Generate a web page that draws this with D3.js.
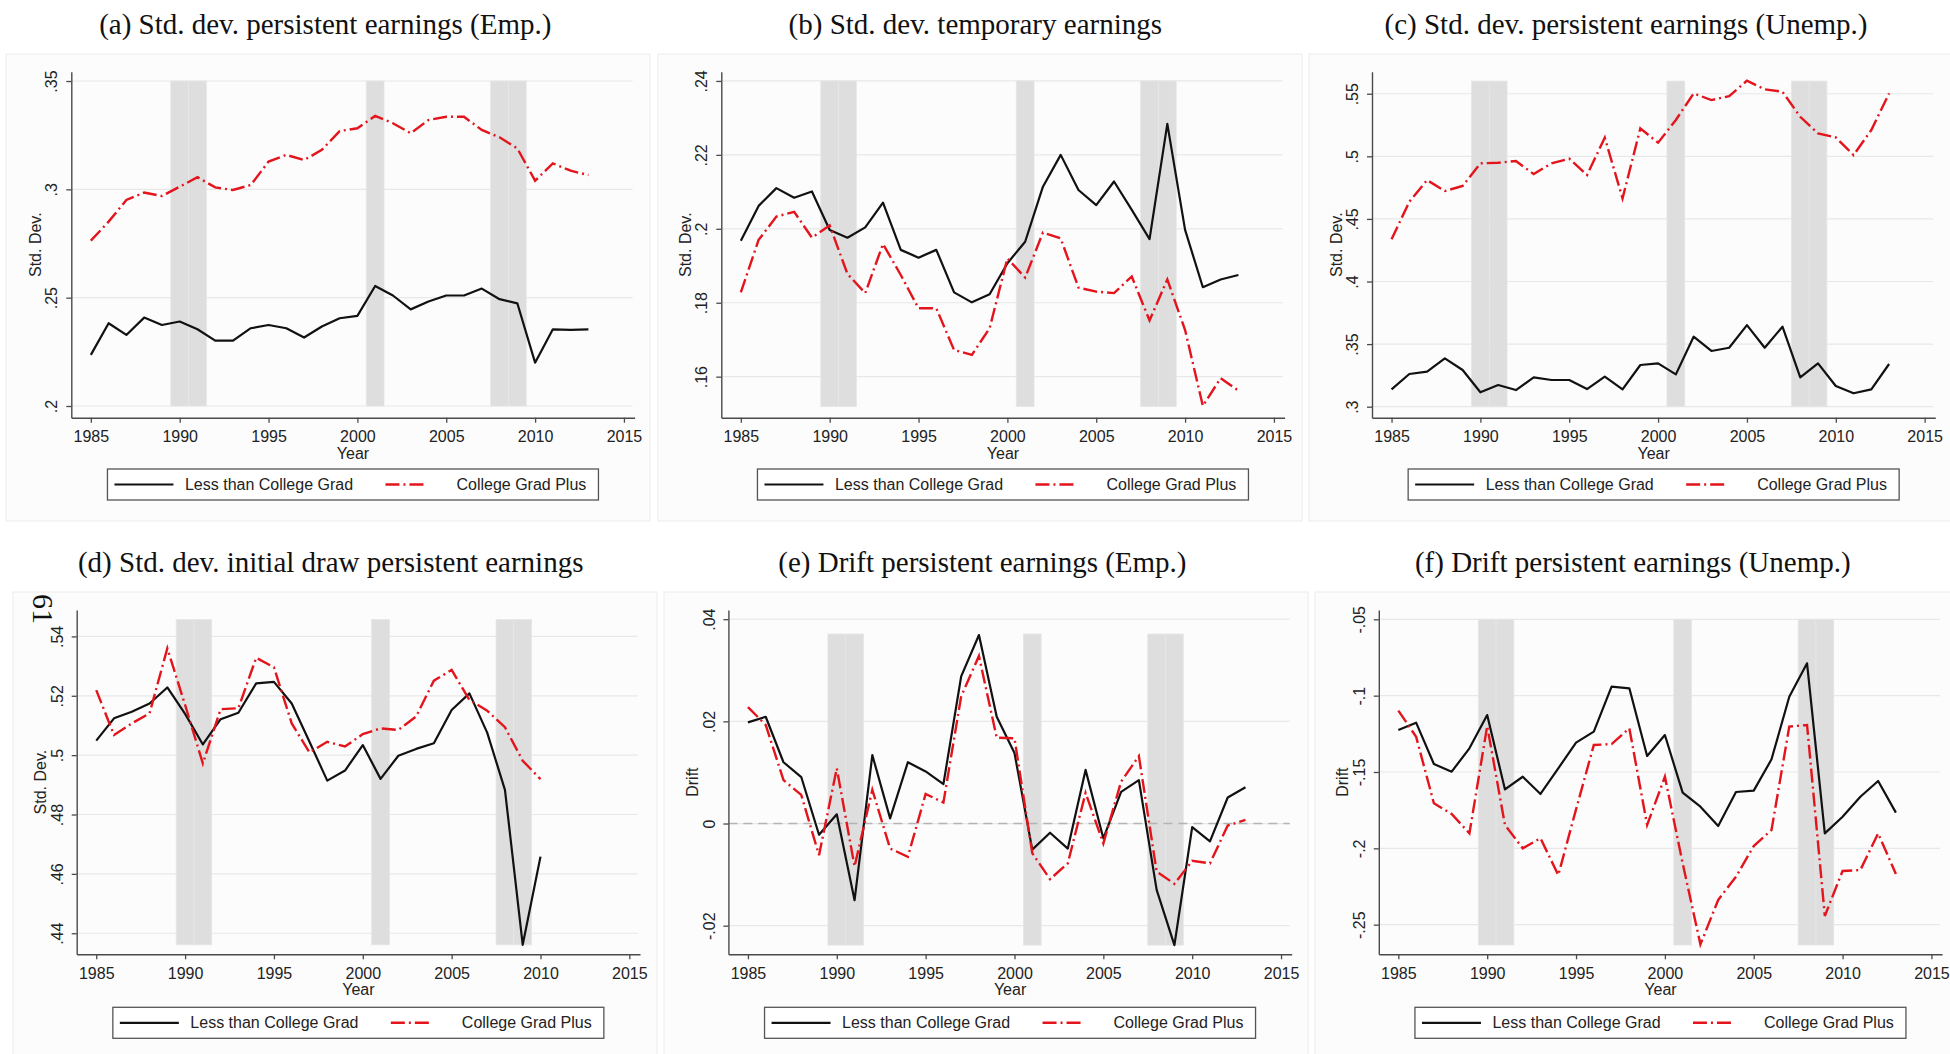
<!DOCTYPE html>
<html>
<head>
<meta charset="utf-8">
<script src="https://cdn.jsdelivr.net/npm/d3@7"></script>
<style>
  body { margin: 0; background: #fff; }
  svg { display: block; }
  .axis-title, .legend-label { font-family: 'Liberation Sans', Arial, sans-serif; font-size: 16px; fill: #222; }
  .panel-title { font-family: 'Liberation Serif', 'Times New Roman', serif; font-size: 29px; fill: #111; }
  .page-number { font-family: 'Liberation Serif', 'Times New Roman', serif; font-size: 30px; fill: #111; }
</style>
</head>
<body>
<svg id="chart" width="1950" height="1054"></svg>
<script>
// ---- data ----
const years = d3.range(1985, 2014);
const yearsInitial = d3.range(1985, 2011);
const recessionYears = [1990, 1991, 2001, 2008, 2009];
const xTicks = [1985, 1990, 1995, 2000, 2005, 2010, 2015];
const seriesNames = ['Less than College Grad', 'College Grad Plus'];

// (a) std. dev. persistent earnings, employed
const sdPersEmpLess = [0.2236, 0.2382, 0.2328, 0.2408, 0.2374, 0.2390, 0.2354, 0.2302, 0.2302, 0.2359,
  0.2374, 0.2359, 0.2316, 0.2367, 0.2405, 0.2416, 0.2554, 0.2510, 0.2446, 0.2482,
  0.2510, 0.2510, 0.2542, 0.2493, 0.2474, 0.2200, 0.2354, 0.2351, 0.2354];
const sdPersEmpPlus = [0.2763, 0.2851, 0.2951, 0.2985, 0.2969, 0.3012, 0.3056, 0.3009, 0.2997, 0.3020,
  0.3128, 0.3159, 0.3135, 0.3182, 0.3269, 0.3282, 0.3339, 0.3305, 0.3259, 0.3320,
  0.3335, 0.3335, 0.3274, 0.3240, 0.3189, 0.3040, 0.3120, 0.3086, 0.3066];
const ticksA = [0.2, 0.25, 0.3, 0.35];
const tickLabelsA = ['.2', '.25', '.3', '.35'];

// (b) std. dev. temporary earnings
const sdTempLess = [0.1968, 0.2062, 0.2110, 0.2084, 0.2101, 0.1997, 0.1976, 0.2004, 0.2071, 0.1943,
  0.1922, 0.1943, 0.1828, 0.1801, 0.1823, 0.1907, 0.1965, 0.2114, 0.2200, 0.2105,
  0.2064, 0.2128, 0.2051, 0.1972, 0.2284, 0.1997, 0.1842, 0.1863, 0.1875];
const sdTempPlus = [0.1828, 0.1970, 0.2033, 0.2046, 0.1976, 0.2009, 0.1878, 0.1826, 0.1959, 0.1875,
  0.1785, 0.1785, 0.1672, 0.1659, 0.1731, 0.1920, 0.1868, 0.1990, 0.1974, 0.1841,
  0.1830, 0.1826, 0.1871, 0.1752, 0.1863, 0.1726, 0.1521, 0.1596, 0.1562];
const ticksB = [0.16, 0.18, 0.2, 0.22, 0.24];
const tickLabelsB = ['.16', '.18', '.2', '.22', '.24'];

// (c) std. dev. persistent earnings, unemployed
const sdPersUnempLess = [0.3138, 0.3261, 0.3280, 0.3386, 0.3293, 0.3115, 0.3173, 0.3133, 0.3234, 0.3213,
  0.3213, 0.3141, 0.3240, 0.3138, 0.3333, 0.3346, 0.3258, 0.3559, 0.3445, 0.3471,
  0.3652, 0.3471, 0.3639, 0.3234, 0.3346, 0.3165, 0.3107, 0.3138, 0.3341];
const sdPersUnempPlus = [0.4337, 0.4637, 0.4810, 0.4723, 0.4763, 0.4944, 0.4949, 0.4962, 0.4858, 0.4944,
  0.4981, 0.4850, 0.5149, 0.4664, 0.5223, 0.5109, 0.5290, 0.5503, 0.5449, 0.5481,
  0.5604, 0.5535, 0.5516, 0.5316, 0.5183, 0.5151, 0.5010, 0.5210, 0.5503];
const ticksC = [0.3, 0.35, 0.4, 0.45, 0.5, 0.55];
const tickLabelsC = ['.3', '.35', '.4', '.45', '.5', '.55'];

// (d) std. dev. initial draw persistent earnings (1985-2010)
const sdInitLess = [0.5049, 0.5124, 0.5146, 0.5174, 0.5228, 0.5139, 0.5036, 0.5121, 0.5143, 0.5242,
  0.5247, 0.5174, 0.5045, 0.4914, 0.4948, 0.5034, 0.4920, 0.4998, 0.5021, 0.5040,
  0.5152, 0.5208, 0.5076, 0.4883, 0.4361, 0.4658];
const sdInitPlus = [0.5219, 0.5068, 0.5107, 0.5141, 0.5360, 0.5169, 0.4972, 0.5155, 0.5158, 0.5328,
  0.5296, 0.5107, 0.5009, 0.5045, 0.5029, 0.5071, 0.5090, 0.5085, 0.5130, 0.5251,
  0.5287, 0.5186, 0.5150, 0.5094, 0.4981, 0.4919];
const ticksD = [0.44, 0.46, 0.48, 0.5, 0.52, 0.54];
const tickLabelsD = ['.44', '.46', '.48', '.5', '.52', '.54'];

// (e) drift persistent earnings, employed
const driftEmpLess = [0.0198, 0.0209, 0.0120, 0.0091, -0.0022, 0.0018, -0.0150, 0.0134, 0.0010, 0.0120,
  0.0102, 0.0077, 0.0288, 0.0369, 0.0209, 0.0138, -0.0051, -0.0018, -0.0049, 0.0105,
  -0.0029, 0.0062, 0.0085, -0.0130, -0.0238, -0.0007, -0.0035, 0.0051, 0.0071];
const driftEmpPlus = [0.0228, 0.0193, 0.0085, 0.0056, -0.0062, 0.0108, -0.0084, 0.0066, -0.0049, -0.0065,
  0.0058, 0.0041, 0.0249, 0.0328, 0.0168, 0.0167, -0.0058, -0.0109, -0.0078, 0.0060,
  -0.0039, 0.0082, 0.0132, -0.0094, -0.0118, -0.0073, -0.0078, -0.0004, 0.0007];
const ticksE = [-0.02, 0, 0.02, 0.04];
const tickLabelsE = ['-.02', '0', '.02', '.04'];

// (f) drift persistent earnings, unemployed
const driftUnempLess = [-0.1225, -0.1177, -0.1448, -0.1498, -0.1345, -0.1127, -0.1614, -0.1531, -0.1644, -0.1476,
  -0.1308, -0.1236, -0.0941, -0.0952, -0.1395, -0.1258, -0.1635, -0.1727, -0.1854, -0.1631,
  -0.1622, -0.1417, -0.1007, -0.0788, -0.1902, -0.1793, -0.1662, -0.1559, -0.1766];
const driftUnempPlus = [-0.1098, -0.1269, -0.1705, -0.1775, -0.1902, -0.1199, -0.1847, -0.2000, -0.1934, -0.2175,
  -0.1745, -0.1323, -0.1317, -0.1214, -0.1847, -0.1531, -0.2098, -0.2629, -0.2338, -0.2186,
  -0.1985, -0.1880, -0.1203, -0.1192, -0.2443, -0.2148, -0.2142, -0.1902, -0.2168];
const ticksF = [-0.25, -0.2, -0.15, -0.1, -0.05];
const tickLabelsF = ['-.25', '-.2', '-.15', '-.1', '-.05'];

// ---- layout ----
const layout = {
  rows: [
    { plotTop: 71.7, plotBottom: 417.7, boxTop: 54, boxBottom: 521, titleBase: 34, legendGap: 51.3 },
    { plotTop: 610, plotBottom: 954.3, boxTop: 592, boxBottom: 1070, titleBase: 572, legendGap: 53 },
  ],
  cols: [
    [{ boxLeft: 6, plotLeft: 71.3 }, { boxLeft: 658, plotLeft: 721.3 }, { boxLeft: 1309, plotLeft: 1372 }],
    [{ boxLeft: 13, plotLeft: 76.7 }, { boxLeft: 664, plotLeft: 728.4 }, { boxLeft: 1315, plotLeft: 1378.8 }],
  ],
  boxWidth: 644,
  plotWidth: 563.3,
  xDomain: [1983.9, 2015.6],
};

const panels = [
  { row: 0, col: 0, title: '(a) Std. dev. persistent earnings (Emp.)', yTitle: 'Std. Dev.', x: years,
    less: sdPersEmpLess, plus: sdPersEmpPlus, ticks: ticksA, tickLabels: tickLabelsA,
    yDomain: [0.1946, 0.3543], shade: [0.2, 0.35] },
  { row: 0, col: 1, title: '(b) Std. dev. temporary earnings', yTitle: 'Std. Dev.', x: years,
    less: sdTempLess, plus: sdTempPlus, ticks: ticksB, tickLabels: tickLabelsB,
    yDomain: [0.1489, 0.2425], shade: [0.1519, 0.24] },
  { row: 0, col: 2, title: '(c) Std. dev. persistent earnings (Unemp.)', yTitle: 'Std. Dev.', x: years,
    less: sdPersUnempLess, plus: sdPersUnempPlus, ticks: ticksC, tickLabels: tickLabelsC,
    yDomain: [0.2912, 0.5676], shade: [0.3, 0.5601] },
  { row: 1, col: 0, title: '(d) Std. dev. initial draw persistent earnings', yTitle: 'Std. Dev.', x: yearsInitial,
    less: sdInitLess, plus: sdInitPlus, ticks: ticksD, tickLabels: tickLabelsD,
    yDomain: [0.4329, 0.5489], shade: [0.4361, 0.5457] },
  { row: 1, col: 1, title: '(e) Drift persistent earnings (Emp.)', yTitle: 'Drift', x: years,
    less: driftEmpLess, plus: driftEmpPlus, ticks: ticksE, tickLabels: tickLabelsE,
    yDomain: [-0.0256, 0.0418], shade: [-0.0238, 0.0371], zeroLine: true },
  { row: 1, col: 2, title: '(f) Drift persistent earnings (Unemp.)', yTitle: 'Drift', x: years,
    less: driftUnempLess, plus: driftUnempPlus, ticks: ticksF, tickLabels: tickLabelsF,
    yDomain: [-0.2694, -0.0439], shade: [-0.2633, -0.05] },
];

const style = {
  axis: '#4a4a4a',
  grid: '#e8e8e8',
  shade: '#dedede',
  less: '#111111',
  plus: '#e3141b',
  plusDash: '14,4,2,4',
};

class EarningsPanel {
  constructor(svg, cfg) {
    this.cfg = cfg;
    this.row = layout.rows[cfg.row];
    this.col = layout.cols[cfg.row][cfg.col];
    this.left = this.col.plotLeft;
    this.right = this.col.plotLeft + layout.plotWidth;
    this.g = svg.append('g').attr('class', 'panel');
    this.x = d3.scaleLinear().domain(layout.xDomain).range([this.left, this.right]);
    this.y = d3.scaleLinear().domain(cfg.yDomain).range([this.row.plotBottom, this.row.plotTop]);
  }

  drawFrame() {
    this.g.append('rect')
      .attr('x', this.col.boxLeft)
      .attr('y', this.row.boxTop)
      .attr('width', layout.boxWidth)
      .attr('height', this.row.boxBottom - this.row.boxTop)
      .attr('fill', '#fcfcfc')
      .attr('stroke', '#ececec');

    this.g.append('text')
      .attr('class', 'panel-title')
      .attr('x', this.left + 254)
      .attr('y', this.row.titleBase)
      .attr('text-anchor', 'middle')
      .text(this.cfg.title);
  }

  drawGrid() {
    this.g.selectAll('line.grid')
      .data(this.cfg.ticks)
      .enter()
      .append('line')
      .attr('class', 'grid')
      .attr('x1', this.left)
      .attr('x2', this.right - 2)
      .attr('y1', d => this.y(d))
      .attr('y2', d => this.y(d))
      .attr('stroke', style.grid)
      .attr('stroke-width', 1.2);
  }

  drawRecessions() {
    const [lo, hi] = this.cfg.shade;
    this.g.selectAll('rect.recession')
      .data(recessionYears)
      .enter()
      .append('rect')
      .attr('class', 'recession')
      .attr('x', d => this.x(d - 0.5))
      .attr('width', d => this.x(d + 0.5) - this.x(d - 0.5))
      .attr('y', this.y(hi))
      .attr('height', this.y(lo) - this.y(hi))
      .attr('fill', style.shade)
      .attr('stroke', '#e6e6e6')
      .attr('stroke-width', 0.8);

    if (this.cfg.zeroLine) {
      this.g.append('line')
        .attr('x1', this.left)
        .attr('x2', this.right - 2)
        .attr('y1', this.y(0))
        .attr('y2', this.y(0))
        .attr('stroke', '#b4b4b4')
        .attr('stroke-width', 1.6)
        .attr('stroke-dasharray', '9,6');
    }
  }

  drawSeries() {
    const line = values => d3.line()
      .x((d, i) => this.x(this.cfg.x[i]))
      .y(d => this.y(d))(values);

    this.g.append('path')
      .attr('d', line(this.cfg.less))
      .attr('fill', 'none')
      .attr('stroke', style.less)
      .attr('stroke-width', 2.2)
      .attr('stroke-linejoin', 'round');

    this.g.append('path')
      .attr('d', line(this.cfg.plus))
      .attr('fill', 'none')
      .attr('stroke', style.plus)
      .attr('stroke-width', 2.4)
      .attr('stroke-dasharray', style.plusDash);
  }

  drawAxes() {
    const font = "'Liberation Sans', Arial, sans-serif";
    const { tickLabels } = this.cfg;

    const yAxis = this.g.append('g')
      .attr('transform', `translate(${this.left},0)`)
      .call(d3.axisLeft(this.y)
        .tickValues(this.cfg.ticks)
        .tickFormat((d, i) => tickLabels[i])
        .tickSize(5)
        .tickSizeOuter(0));
    yAxis.selectAll('text')
      .attr('x', 0)
      .attr('y', 0)
      .attr('dy', '0.35em')
      .attr('text-anchor', 'middle')
      .attr('transform', 'translate(-19.5,0) rotate(-90)');

    const xAxis = this.g.append('g')
      .attr('transform', `translate(0,${this.row.plotBottom})`)
      .call(d3.axisBottom(this.x)
        .tickValues(xTicks)
        .tickFormat(d3.format('d'))
        .tickSize(5)
        .tickSizeOuter(0)
        .tickPadding(8));

    [yAxis, xAxis].forEach((ax) => {
      ax.attr('font-family', font).attr('font-size', 16);
      ax.select('.domain').attr('stroke', style.axis).attr('stroke-width', 1.4);
      ax.selectAll('.tick line').attr('stroke', style.axis).attr('stroke-width', 1.3);
      ax.selectAll('.tick text').attr('fill', '#222');
    });

    this.g.append('text')
      .attr('class', 'axis-title')
      .attr('text-anchor', 'middle')
      .attr('transform', `translate(${this.left - 36},${(this.row.plotTop + this.row.plotBottom) / 2}) rotate(-90)`)
      .attr('dy', '0.35em')
      .text(this.cfg.yTitle);

    this.g.append('text')
      .attr('class', 'axis-title')
      .attr('text-anchor', 'middle')
      .attr('x', (this.left + this.right) / 2)
      .attr('y', this.row.plotBottom + 41)
      .text('Year');
  }

  drawLegend() {
    const left = (this.left + this.right) / 2 - 245.5;
    const top = this.row.plotBottom + this.row.legendGap;
    const lg = this.g.append('g').attr('transform', `translate(${left},${top})`);

    lg.append('rect')
      .attr('width', 491)
      .attr('height', 31)
      .attr('fill', '#fff')
      .attr('stroke', '#555')
      .attr('stroke-width', 1.3);

    const items = [
      { name: seriesNames[0], color: style.less, x0: 7, x1: 66, tx: 77.5, dash: null, w: 2.2 },
      { name: seriesNames[1], color: style.plus, x0: 278, x1: 318, tx: 349, dash: style.plusDash, w: 2.4 },
    ];
    items.forEach((it) => {
      lg.append('line')
        .attr('x1', it.x0)
        .attr('x2', it.x1)
        .attr('y1', 15.5)
        .attr('y2', 15.5)
        .attr('stroke', it.color)
        .attr('stroke-width', it.w)
        .attr('stroke-dasharray', it.dash);
      lg.append('text')
        .attr('class', 'legend-label')
        .attr('x', it.tx)
        .attr('y', 21.2)
        .text(it.name);
    });
  }

  render() {
    this.drawFrame();
    this.drawGrid();
    this.drawRecessions();
    this.drawSeries();
    this.drawAxes();
    this.drawLegend();
  }
}

const svg = d3.select('#chart');
svg.append('rect').attr('width', 1950).attr('height', 1054).attr('fill', '#fff');

panels.forEach(p => new EarningsPanel(svg, p).render());

// page number from the scanned thesis page
svg.append('text')
  .attr('class', 'page-number')
  .attr('text-anchor', 'middle')
  .attr('transform', 'translate(33,609) rotate(90)')
  .text('61');
</script>
</body>
</html>
